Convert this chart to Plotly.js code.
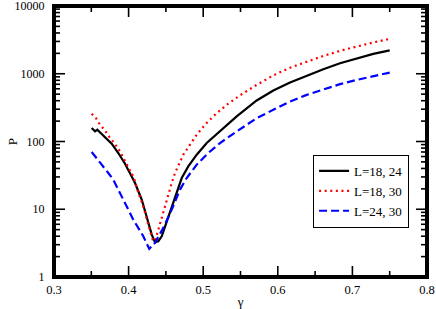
<!DOCTYPE html>
<html>
<head>
<meta charset="utf-8">
<script src="https://cdn.plot.ly/plotly-3.0.1.min.js"></script>
<style>html,body{margin:0;padding:0;background:#fff;}#chart{width:436px;height:309px;}</style>
</head>
<body>
<div id="chart"></div>
<script>
// L=18, 24 (black solid)
const gammaA = [0.3505, 0.355, 0.358, 0.3684, 0.3773, 0.3862, 0.3952, 0.4036, 0.4086, 0.4176, 0.4243, 0.4310, 0.4354, 0.4398, 0.4444, 0.4511, 0.4578, 0.4645, 0.4712, 0.4800, 0.4913, 0.5047, 0.5225, 0.5449, 0.5717, 0.5940, 0.6164, 0.6387, 0.6610, 0.6834, 0.7058, 0.7280, 0.7500];
const pA = [158, 141, 149, 116, 92.7, 67.6, 47, 31.3, 24.4, 13.9, 7.87, 4.23, 3.26, 3.37, 3.99, 6.64, 11.0, 17.4, 28.9, 42.9, 63.8, 94.9, 141, 235, 403, 565, 741, 940, 1167, 1432, 1696, 1963, 2208];

// L=18, 30 (red dotted)
const gammaB = [0.3505, 0.3563, 0.3603, 0.3653, 0.3697, 0.3741, 0.3795, 0.3840, 0.3885, 0.3921, 0.3961, 0.3996, 0.4036, 0.4072, 0.4109, 0.4197, 0.4264, 0.4323, 0.4354, 0.4398, 0.4444, 0.4511, 0.4578, 0.4622, 0.4666, 0.4733, 0.4823, 0.4913, 0.5024, 0.5158, 0.5315, 0.5493, 0.5717, 0.5940, 0.6164, 0.6387, 0.6610, 0.6834, 0.7058, 0.7280, 0.7500];
const pB = [256, 221, 187, 161, 138, 117, 100, 84.6, 71.3, 60.2, 49.8, 42.5, 35.5, 28.9, 20.6, 11.0, 5.94, 3.57, 3.37, 5.01, 7.87, 13.9, 24.4, 34.3, 44.0, 63.8, 89.6, 126, 177, 248, 348, 480, 686, 945, 1230, 1511, 1830, 2180, 2540, 2900, 3265];

// L=24, 30 (blue dashed)
const gammaC = [0.3505, 0.3617, 0.3728, 0.3795, 0.3929, 0.4063, 0.4197, 0.4277, 0.4354, 0.4465, 0.4578, 0.4689, 0.4779, 0.4913, 0.5068, 0.5225, 0.5403, 0.5537, 0.5717, 0.5940, 0.6164, 0.6387, 0.6610, 0.6834, 0.7058, 0.7280, 0.7500];
const pC = [69.9, 49.8, 34.3, 27.3, 13.9, 7.03, 3.99, 2.60, 3.19, 5.31, 9.87, 19.5, 28.9, 45.5, 67.6, 94.9, 130, 163, 221, 294, 389, 488, 593, 702, 812, 931, 1040];

const seriesNames = ['L=18, 24', 'L=18, 30', 'L=24, 30'];
const yTickVals = [1, 10, 100, 1000, 10000];
const yTickText = ['1', '10', '100', '1000', '10000'];
const xTickVals = [0.3, 0.4, 0.5, 0.6, 0.7, 0.8];
const xTickText = ['0.3', '0.4', '0.5', '0.6', '0.7', '0.8'];
const xMinorVals = [0.35, 0.45, 0.55, 0.65, 0.75];

const yMinorVals = [];
for (let d = 1; d < 10000; d *= 10) {
  for (let k = 2; k <= 9; k++) yMinorVals.push(k * d);
}

// plot geometry (pixels) used only to size the tick marks
const W = 436, H = 309, ML = 54, MR = 9, MT = 6, MB = 32;
const plotW = W - ML - MR, plotH = H - MT - MB;
const X0 = 0.3, X1 = 0.8, LOGY0 = 0, LOGY1 = 4;
const majorLen = 11, minorLen = 6;

function xLen(px) { return px * (X1 - X0) / plotW; }
function yFac(px) { return Math.pow(10, px * (LOGY1 - LOGY0) / plotH); }

// tick marks on all four sides, built from the tick arrays
const tickX = [], tickY = [];
function addX(vals, len) {
  const f = yFac(len);
  vals.forEach(function (v) {
    tickX.push(v, v, null, v, v, null);
    tickY.push(1, f, null, 10000, 10000 / f, null);
  });
}
function addY(vals, len) {
  const dx = xLen(len);
  vals.forEach(function (v) {
    tickX.push(X0, X0 + dx, null, X1, X1 - dx, null);
    tickY.push(v, v, null, v, v, null);
  });
}
addX(xTickVals.slice(1, -1), majorLen);
addX(xMinorVals, minorLen);
addY(yTickVals.slice(1, -1), majorLen);
addY(yMinorVals, minorLen);

const traces = [
  {x: gammaA, y: pA, name: seriesNames[0], mode: 'lines', line: {color: 'black', width: 2.2}},
  {x: gammaB, y: pB, name: seriesNames[1], mode: 'lines', line: {color: 'red', width: 2.2, dash: '2px,3.6px'}},
  {x: gammaC, y: pC, name: seriesNames[2], mode: 'lines', line: {color: 'blue', width: 2.2, dash: '8px,4px'}},
  {x: tickX, y: tickY, mode: 'lines', connectgaps: false, showlegend: false, hoverinfo: 'skip',
   line: {color: 'black', width: 1.6}},
  {x: [X0, X1, X1, X0, X0], y: [1, 1, 10000, 10000, 1], mode: 'lines', showlegend: false, hoverinfo: 'skip',
   line: {color: 'black', width: 4}}
];

const serif = 'Liberation Serif, Times New Roman, serif';

const layout = {
  width: W, height: H,
  margin: {l: ML, r: MR, t: MT, b: MB},
  font: {family: serif, color: 'black', size: 12},
  showlegend: true,
  legend: {
    x: 0.694, y: 0.451, xanchor: 'left', yanchor: 'top',
    bgcolor: 'white', bordercolor: 'black', borderwidth: 1.2,
    font: {family: serif, size: 13, color: 'black'},
    itemwidth: 30
  },
  xaxis: {
    range: [X0, X1], tickmode: 'array', tickvals: xTickVals, ticktext: xTickText,
    showline: true, linecolor: 'black', linewidth: 2, mirror: true,
    ticks: '', showgrid: false, zeroline: false,
    tickfont: {family: serif, size: 12.5},
    title: {text: 'γ', font: {family: serif, size: 13}}
  },
  yaxis: {
    type: 'log', range: [LOGY0, LOGY1], tickmode: 'array', tickvals: yTickVals, ticktext: yTickText,
    showline: true, linecolor: 'black', linewidth: 2, mirror: true,
    ticks: '', showgrid: false, zeroline: false,
    ticklabeloverflow: 'allow',
    ticklabelstandoff: 5,
    tickfont: {family: serif, size: 12},
    title: {text: 'P', font: {family: serif, size: 13}}
  }
};

Plotly.newPlot('chart', traces, layout, {displayModeBar: false});
</script>
</body>
</html>
